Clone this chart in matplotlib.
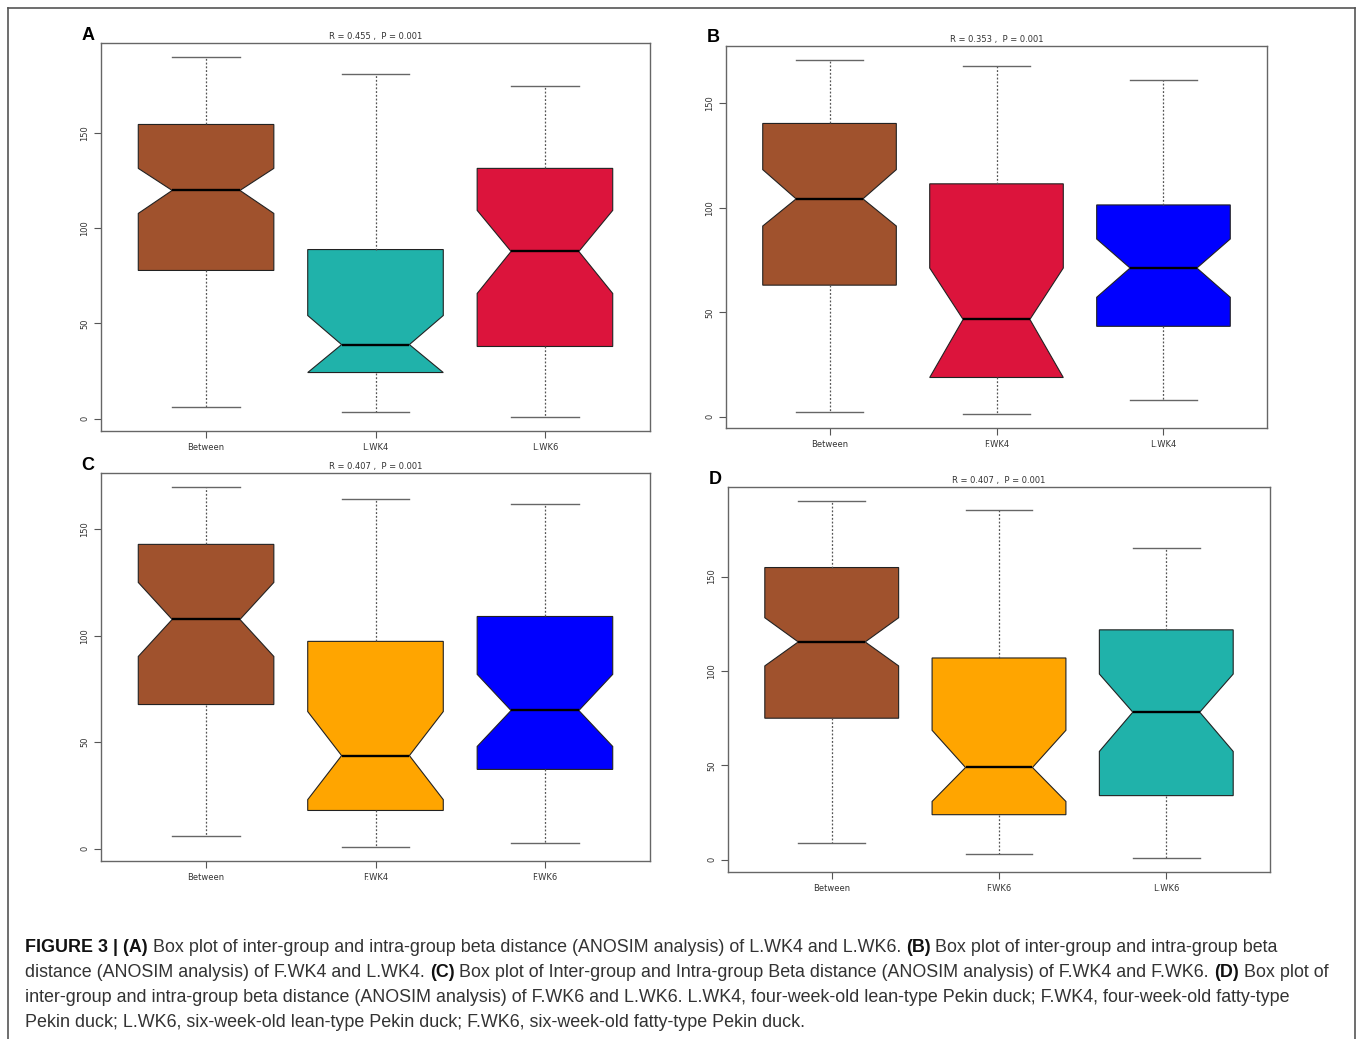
import matplotlib
matplotlib.use('Agg')
import numpy as np
import matplotlib.pyplot as plt
from matplotlib.lines import Line2D

W, H = 1357, 1039

# panel A
a_labels = ["Between", "L.WK4", "L.WK6"]
a_colors = ["#A0522D", "#20B2AA", "#DC143C"]
a_whislo = [6.3, 3.2, 1.0]
a_q1 = [77.9, 24.2, 37.9]
a_cilo = [107.9, 24.2, 65.8]
a_med = [120.0, 38.9, 87.9]
a_cihi = [131.6, 54.2, 109.5]
a_q3 = [154.7, 88.9, 131.6]
a_whishi = [190.0, 181.0, 174.7]
a_title = "R = 0.455 ,  P = 0.001"

# panel B
b_labels = ["Between", "F.WK4", "L.WK4"]
b_colors = ["#A0522D", "#DC143C", "#0000FF"]
b_whislo = [2.4, 1.4, 8.2]
b_q1 = [63.0, 18.8, 43.3]
b_cilo = [91.3, 18.8, 57.2]
b_med = [104.3, 46.6, 71.2]
b_cihi = [118.3, 71.2, 85.1]
b_q3 = [140.4, 111.5, 101.4]
b_whishi = [170.7, 167.8, 161.0]
b_title = "R = 0.353 ,  P = 0.001"

# panel C
c_labels = ["Between", "F.WK4", "F.WK6"]
c_colors = ["#A0522D", "#FFA500", "#0000FF"]
c_whislo = [6.1, 0.9, 2.8]
c_q1 = [67.7, 17.9, 37.2]
c_cilo = [90.3, 23.0, 48.0]
c_med = [107.7, 43.7, 64.9]
c_cihi = [125.1, 64.4, 81.9]
c_q3 = [143.0, 97.4, 109.1]
c_whishi = [169.8, 164.2, 161.8]
c_title = "R = 0.407 ,  P = 0.001"

# panel D
d_labels = ["Between", "F.WK6", "L.WK6"]
d_colors = ["#A0522D", "#FFA500", "#20B2AA"]
d_whislo = [9.0, 3.2, 1.1]
d_q1 = [75.0, 23.9, 34.0]
d_cilo = [102.7, 30.9, 57.4]
d_med = [115.4, 48.9, 78.2]
d_cihi = [128.2, 68.6, 98.4]
d_q3 = [154.8, 106.9, 121.8]
d_whishi = [189.9, 185.1, 164.9]
d_title = "R = 0.407 ,  P = 0.001"

panels = [
    ("A", (101, 650, 43, 431), a_labels, a_colors, a_whislo, a_q1, a_cilo, a_med, a_cihi, a_q3, a_whishi, a_title),
    ("B", (726, 1267, 46, 428), b_labels, b_colors, b_whislo, b_q1, b_cilo, b_med, b_cihi, b_q3, b_whishi, b_title),
    ("C", (101, 650, 473, 861), c_labels, c_colors, c_whislo, c_q1, c_cilo, c_med, c_cihi, c_q3, c_whishi, c_title),
    ("D", (728, 1270, 487, 872), d_labels, d_colors, d_whislo, d_q1, d_cilo, d_med, d_cihi, d_q3, d_whishi, d_title),
]

fig = plt.figure(figsize=(W / 100, H / 100), dpi=100)

for letter, (x0, x1, y0, y1), labels, colors, wlo, q1, clo, med, chi, q3, whi, title in panels:
    ax = fig.add_axes([x0 / W, 1 - y1 / H, (x1 - x0) / W, (y1 - y0) / H])
    stats = []
    for i in range(len(labels)):
        stats.append(dict(label=labels[i], whislo=wlo[i], q1=q1[i], cilo=clo[i], med=med[i],
                          cihi=chi[i], q3=q3[i], whishi=whi[i], fliers=[]))
    bp = ax.bxp(stats, positions=[1, 2, 3], widths=0.8, shownotches=True, patch_artist=True,
                showfliers=False,
                boxprops=dict(edgecolor='#222222', linewidth=0.8),
                medianprops=dict(color='black', linewidth=1.7),
                whiskerprops=dict(color='#555555', linewidth=0.9, linestyle=(0, (1.5, 1.5))),
                capprops=dict(color='#666666', linewidth=1.0))
    for patch, col in zip(bp['boxes'], colors):
        patch.set_facecolor(col)
    ax.set_xlim(0.38, 3.62)
    ax.margins(y=0.04)
    ax.set_yticks([0, 50, 100, 150])
    ax.tick_params(axis='both', labelsize=6, color='#555555', length=5, width=0.8, labelcolor='#333333')
    for lab in ax.get_yticklabels():
        lab.set_rotation(90)
        lab.set_va('center')
    for sp in ax.spines.values():
        sp.set_color('#666666')
        sp.set_linewidth(1.0)
    ax.set_title(title, fontsize=6, pad=3, color='#333333')
    fig.text((x0 - 13) / W, 1 - (y0 - 8) / H, letter, fontsize=13, fontweight='bold',
             ha='center', va='center', family='Liberation Sans')

# outer frame
fig.add_artist(Line2D([8 / W, 1355 / W], [1 - 8 / H, 1 - 8 / H], color='#555555', lw=1.2, transform=fig.transFigure))
fig.add_artist(Line2D([8 / W, 8 / W], [1 - 8 / H, 0], color='#555555', lw=1.2, transform=fig.transFigure))
fig.add_artist(Line2D([1355 / W, 1355 / W], [1 - 8 / H, 0], color='#555555', lw=1.2, transform=fig.transFigure))

# caption
cap_lines = [
    [("FIGURE 3 | (A)", True), (" Box plot of inter-group and intra-group beta distance (ANOSIM analysis) of L.WK4 and L.WK6. ", False),
     ("(B)", True), (" Box plot of inter-group and intra-group beta", False)],
    [("distance (ANOSIM analysis) of F.WK4 and L.WK4. ", False), ("(C)", True),
     (" Box plot of Inter-group and Intra-group Beta distance (ANOSIM analysis) of F.WK4 and F.WK6. ", False),
     ("(D)", True), (" Box plot of", False)],
    [("inter-group and intra-group beta distance (ANOSIM analysis) of F.WK6 and L.WK6. L.WK4, four-week-old lean-type Pekin duck; F.WK4, four-week-old fatty-type", False)],
    [("Pekin duck; L.WK6, six-week-old lean-type Pekin duck; F.WK6, six-week-old fatty-type Pekin duck.", False)],
]
bottoms = [956, 981, 1006, 1031]
for chunks, yb in zip(cap_lines, bottoms):
    prev = None
    for s, bold in chunks:
        kw = dict(fontsize=12.9, family='Liberation Sans', color='#111111' if bold else '#333333',
                  fontweight='bold' if bold else 'normal', ha='left', va='bottom')
        if prev is None:
            prev = fig.text(25 / W, 1 - yb / H, s, **kw)
        else:
            prev = fig.axes[0].annotate(s, xy=(1, 0), xycoords=prev, annotation_clip=False, **kw)

plt.savefig('out.png', dpi=100)
